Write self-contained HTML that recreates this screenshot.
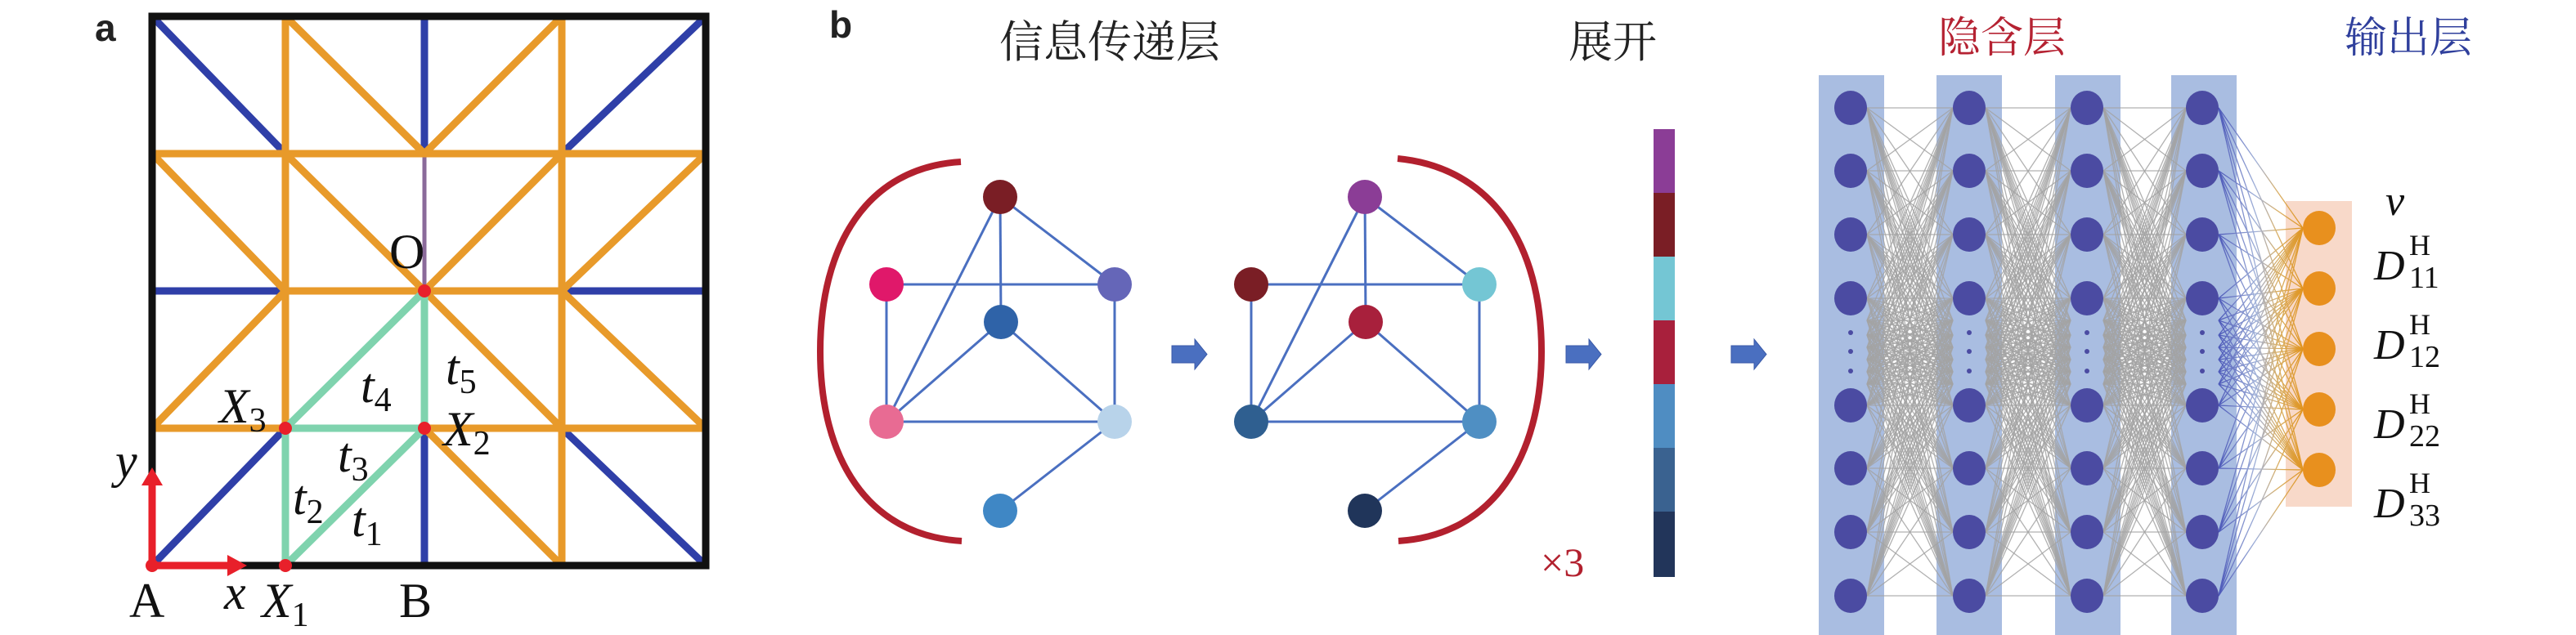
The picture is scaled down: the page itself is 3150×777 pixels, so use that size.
<!DOCTYPE html>
<html><head><meta charset="utf-8">
<style>
html,body{margin:0;padding:0;background:#fff;}
svg{display:block;}
.s{font-family:"Liberation Serif",serif;fill:#111;}
.i{font-style:italic;}
.cn{font-family:"Liberation Serif","Noto Serif CJK SC","Noto Sans CJK SC",serif;}
</style></head>
<body>
<svg id="sv" width="3150" height="777" viewBox="0 0 3150 777" xmlns="http://www.w3.org/2000/svg">
<defs>
<linearGradient id="bo" gradientUnits="userSpaceOnUse" x1="2712" y1="0" x2="2816" y2="0">
<stop offset="0" stop-color="#4a56b8"/><stop offset="0.45" stop-color="#9fb0d8"/><stop offset="0.7" stop-color="#d9b068"/><stop offset="1" stop-color="#e0941e"/>
</linearGradient>
</defs>
<!-- Panel a -->
<text x="116" y="50" font-family="Liberation Sans,sans-serif" font-weight="bold" font-size="46" fill="#222">a</text>
<g id="pa" stroke-linecap="round" fill="none"></g>
<g class="s" font-size="60">
<text x="476" y="328">O</text>
<text x="545" y="470" class="i">t<tspan font-size="42" font-style="normal" dy="11">5</tspan></text>
<text x="441" y="492" class="i">t<tspan font-size="42" font-style="normal" dy="11">4</tspan></text>
<text x="268" y="517" class="i">X<tspan font-size="42" font-style="normal" dy="11">3</tspan></text>
<text x="542" y="545" class="i">X<tspan font-size="42" font-style="normal" dy="11">2</tspan></text>
<text x="413" y="577" class="i">t<tspan font-size="42" font-style="normal" dy="11">3</tspan></text>
<text x="358" y="629" class="i">t<tspan font-size="42" font-style="normal" dy="11">2</tspan></text>
<text x="430" y="656" class="i">t<tspan font-size="42" font-style="normal" dy="11">1</tspan></text>
<text x="141" y="584" class="i">y</text>
<text x="158" y="755">A</text>
<text x="274" y="745" class="i">x</text>
<text x="320" y="755" class="i">X<tspan font-size="42" font-style="normal" dy="11">1</tspan></text>
<text x="488" y="755">B</text>
</g>
<!-- Panel b -->
<text x="1014" y="46" font-family="Liberation Sans,sans-serif" font-weight="bold" font-size="46" fill="#222">b</text>
<text x="1222" y="70" class="cn" font-size="54" fill="#222">信息传递层</text>
<text x="1918" y="70" class="cn" font-size="54" fill="#222">展开</text>
<text x="2370" y="64" class="cn" font-size="52" fill="#b52232">隐含层</text>
<text x="2867" y="64" class="cn" font-size="52" fill="#2f3f9c">输出层</text>
<path d="M1175,198 C1060,205 1003,300 1003,430 C1003,560 1060,655 1176,662" stroke="#b2202e" stroke-width="8" fill="none"/>
<path d="M1709,194 C1825,205 1885,300 1885,430 C1885,560 1825,655 1710,662" stroke="#b2202e" stroke-width="8" fill="none"/>
<g id="gr"></g>
<g fill="#4a6fc0" stroke="#3a5aa8" stroke-width="1">
<path d="M1433,423 h28 v-8 l15,18.5 l-15,18.5 v-8 h-28 z"/>
<path d="M1915,423 h28 v-8 l15,18.5 l-15,18.5 v-8 h-28 z"/>
<path d="M2117,423 h28 v-8 l15,18.5 l-15,18.5 v-8 h-28 z"/>
</g>
<text x="1884" y="705" font-family="Liberation Serif,serif" font-size="50" fill="#b2202e">×3</text>
<g>
<rect x="2022" y="158" width="26" height="79" fill="#8b3d96"/>
<rect x="2022" y="236" width="26" height="79" fill="#7a1e25"/>
<rect x="2022" y="314" width="26" height="79" fill="#74c6d4"/>
<rect x="2022" y="392" width="26" height="79" fill="#a8203c"/>
<rect x="2022" y="470" width="26" height="79" fill="#4f8dc2"/>
<rect x="2022" y="548" width="26" height="79" fill="#3a6290"/>
<rect x="2022" y="626" width="26" height="80" fill="#22355a"/>
</g>
<g fill="#a9bde1">
<rect x="2224" y="92" width="80" height="685"/>
<rect x="2368" y="92" width="80" height="685"/>
<rect x="2513" y="92" width="80" height="685"/>
<rect x="2655" y="92" width="80" height="685"/>
</g>
<rect x="2795" y="246" width="81" height="374" fill="#f8d9c9"/>
<g id="nn"></g>
<g class="s" font-size="52">
<text x="2917" y="263" class="i">v</text>
<text x="2903" y="342" class="i">D</text><text x="2946" y="312" font-size="36">H</text><text x="2946" y="352" font-size="38">11</text>
<text x="2903" y="439" class="i">D</text><text x="2946" y="409" font-size="36">H</text><text x="2946" y="449" font-size="38">12</text>
<text x="2903" y="536" class="i">D</text><text x="2946" y="506" font-size="36">H</text><text x="2946" y="546" font-size="38">22</text>
<text x="2903" y="633" class="i">D</text><text x="2946" y="603" font-size="36">H</text><text x="2946" y="643" font-size="38">33</text>
</g>
</svg>
<script>
var NS="http://www.w3.org/2000/svg";
function el(p,t,a){var e=document.createElementNS(NS,t);for(var k in a)e.setAttribute(k,a[k]);p.appendChild(e);return e;}
var pa=document.getElementById("pa");
var X=[186,349,519,687,863],Y=[20,188,356,524,692];
function L(c,a,b,d,e,w){el(pa,"line",{x1:X[a],y1:Y[b],x2:X[d],y2:Y[e],stroke:c,"stroke-width":w||9});}
var B="#2f3fa8",O="#e89a2a",G="#7fd3ae";
L(B,0,0,1,1);L(B,2,0,2,1);L(B,4,0,3,1);L(B,0,2,1,2);L(B,3,2,4,2);L(B,0,4,1,3);L(B,2,3,2,4);L(B,4,4,3,3);
L("#8a6a9a",2,1,2,2,5);
L(O,1,0,1,3);L(O,3,0,3,4);L(O,1,0,2,1);L(O,3,0,2,1);L(O,0,1,4,1);
L(O,0,1,1,2);L(O,1,1,2,2);L(O,2,2,3,3);L(O,3,2,4,3);L(O,2,3,3,4);
L(O,2,2,3,1);L(O,3,2,4,1);L(O,0,3,1,2);L(O,1,2,3,2);L(O,0,3,1,3);L(O,2,3,4,3);
L(G,1,4,1,3);L(G,1,4,2,3);L(G,1,3,2,3);L(G,1,3,2,2);L(G,2,3,2,2);
el(pa,"rect",{x:186,y:20,width:677,height:672,stroke:"#111","stroke-width":9,fill:"none"});
el(pa,"line",{x1:186,y1:692,x2:186,y2:590,stroke:"#e8202a","stroke-width":9});
el(pa,"polygon",{points:"173,594 199,594 186,572",fill:"#e8202a"});
el(pa,"line",{x1:186,y1:692,x2:282,y2:692,stroke:"#e8202a","stroke-width":9});
el(pa,"polygon",{points:"278,679 278,705 302,692",fill:"#e8202a"});
[[0,4],[1,4],[1,3],[2,3],[2,2]].forEach(function(p){el(pa,"circle",{cx:X[p[0]],cy:Y[p[1]],r:8,fill:"#e8202a"});});
var gr=document.getElementById("gr");
function graph(dx,cols){
 var n=[[1223,241],[1084,348],[1363,348],[1224,394],[1084,516],[1363,516],[1223,625]];
 var E=[[0,3],[0,2],[0,4],[1,2],[1,4],[2,5],[3,4],[3,5],[4,5],[5,6]];
 E.forEach(function(e){el(gr,"line",{x1:n[e[0]][0]+dx,y1:n[e[0]][1],x2:n[e[1]][0]+dx,y2:n[e[1]][1],stroke:"#4a6fc0","stroke-width":3});});
 n.forEach(function(p,i){el(gr,"ellipse",{cx:p[0]+dx,cy:p[1],rx:21,ry:21,fill:cols[i]});});
}
graph(0,["#7a1e25","#e0186a","#6566b8","#2f63a8","#e86b93","#b8d3ea","#3f87c5"]);
graph(446,["#8b3d96","#7a1e25","#74c6d4","#a8203c","#2f5f90","#4f8fc3","#20355a"]);
var nn=document.getElementById("nn");
var cx=[2263,2408,2552,2693],ny=[132,209,287,365,496,573,651,729];
var pts=ny.concat([392,410,425,440,455,470]);
for(var c=0;c<3;c++){
 pts.forEach(function(a){pts.forEach(function(b){el(nn,"line",{x1:cx[c]+20,y1:a,x2:cx[c+1]-20,y2:b,stroke:"#a3a3a3","stroke-width":1.3,"stroke-opacity":0.85});});});
}
var oy=[279,353,427,501,575];
pts.forEach(function(a){oy.forEach(function(b){el(nn,"line",{x1:cx[3]+20,y1:a,x2:2816,y2:b,stroke:"url(#bo)","stroke-width":1.3});});});
cx.forEach(function(x){ny.forEach(function(y){el(nn,"ellipse",{cx:x,cy:y,rx:20,ry:21,fill:"#4b4ba2"});});
 [407,430,454].forEach(function(y){el(nn,"circle",{cx:x,cy:y,r:3,fill:"#4b4ba2"});});});
oy.forEach(function(y){el(nn,"ellipse",{cx:2836,cy:y,rx:20,ry:21,fill:"#e8901e"});});
</script>
</body></html>
